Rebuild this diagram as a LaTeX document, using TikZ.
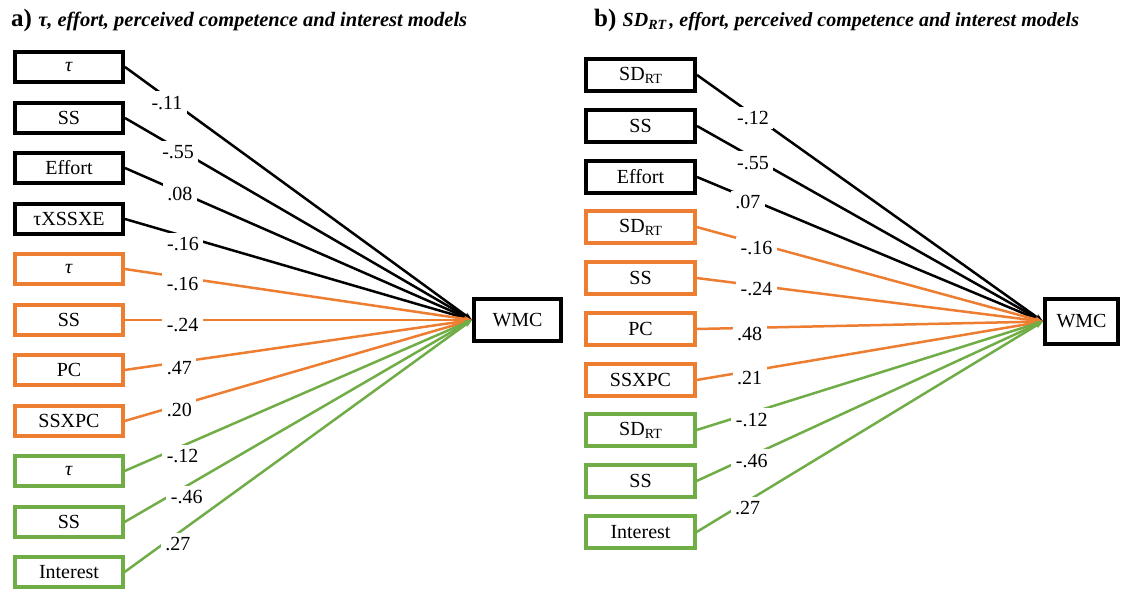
\documentclass[tikz,border=0pt]{standalone}
\usepackage{fontspec}
\setmainfont{Liberation Serif}
\usetikzlibrary{arrows.meta}
\definecolor{orng}{RGB}{237,125,49}
\definecolor{grn}{RGB}{112,173,71}
\newcommand{\sdrt}{SD\raisebox{-3pt}{\fontsize{14}{14}\selectfont RT}}
\begin{document}
\begin{tikzpicture}[x=1pt,y=-1pt,
  box/.style={draw, line width=4pt, minimum width=108pt, minimum height=30pt, inner sep=0pt, font=\fontsize{20}{22}\selectfont},
  rbox/.style={box, minimum width=109pt, minimum height=32pt},
  obox/.style={draw=orng, line width=3.2pt},
  gbox/.style={draw=grn, line width=3.2pt},
  conn/.style={line width=2.5pt, -{Stealth[length=8pt,width=6pt]}},
  lbl/.style={fill=white, inner sep=4.5pt, font=\fontsize{20}{22}\selectfont},
  ttl/.style={anchor=west, inner sep=0pt},
]
\useasboundingbox (0,0) rectangle (1126,589);

% titles
\node[ttl] (ta) at (11,20) {\fontsize{25}{28}\selectfont\bfseries a)\ \fontsize{20.5}{22}\selectfont\itshape τ, effort, perceived competence and interest models};
\node[ttl] (tb) at (594,20) {\fontsize{25}{28}\selectfont\bfseries b)\ \fontsize{20}{22}\selectfont\itshape SD\raisebox{-3pt}{\fontsize{14}{14}\selectfont RT}\,, effort, perceived competence and interest models};

% left panel
\node[box] (a1) at (69,67) {\textit{τ}};
\node[box] (a2) at (69,118) {SS};
\node[box] (a3) at (69,168) {Effort};
\node[box] (a4) at (69,219) {τXSSXE};
\node[box,obox] (a5) at (69,269) {\textit{τ}};
\node[box,obox] (a6) at (69,320) {SS};
\node[box,obox] (a7) at (69,370) {PC};
\node[box,obox] (a8) at (69,421) {SSXPC};
\node[box,gbox] (a9) at (69,471) {\textit{τ}};
\node[box,gbox] (a10) at (69,522) {SS};
\node[box,gbox] (a11) at (69,572) {Interest};
\node[box, minimum width=87pt, minimum height=42pt] (aw) at (517.5,320) {WMC};

\draw[conn] (a1.east) -- node[lbl,pos=.121,yshift=-5pt]{-.11} (aw.west);
\draw[conn] (a2.east) -- node[lbl,pos=.153,yshift=-3pt]{-.55} (aw.west);
\draw[conn] (a3.east) -- node[lbl,pos=.158,yshift=-2pt]{.08} (aw.west);
\draw[conn] (a4.east) -- node[lbl,pos=.167,yshift=-8pt]{-.16} (aw.west);
\draw[conn,orng] (a5.east) -- node[lbl,text=black,pos=.167,yshift=-6pt]{-.16} (aw.west);
\draw[conn,orng] (a6.east) -- node[lbl,text=black,pos=.167,yshift=-5pt]{-.24} (aw.west);
\draw[conn,orng] (a7.east) -- node[lbl,text=black,pos=.158,yshift=-6pt]{.47} (aw.west);
\draw[conn,orng] (a8.east) -- node[lbl,text=black,pos=.158,yshift=-5pt]{.20} (aw.west);
\draw[conn,grn] (a9.east) -- node[lbl,text=black,pos=.167,yshift=-10pt]{-.12} (aw.west);
\draw[conn,grn] (a10.east) -- node[lbl,text=black,pos=.179,yshift=-11pt]{-.46} (aw.west);
\draw[conn,grn] (a11.east) -- node[lbl,text=black,pos=.153,yshift=-11pt]{.27} (aw.west);

% right panel
\node[rbox] (b1) at (640.5,75) {\sdrt};
\node[rbox] (b2) at (640.5,126) {SS};
\node[rbox] (b3) at (640.5,177) {Effort};
\node[rbox,obox] (b4) at (640.5,227) {\sdrt};
\node[rbox,obox] (b5) at (640.5,278) {SS};
\node[rbox,obox] (b6) at (640.5,329) {PC};
\node[rbox,obox] (b7) at (640.5,380) {SSXPC};
\node[rbox,gbox] (b8) at (640.5,430) {\sdrt};
\node[rbox,gbox] (b9) at (640.5,481) {SS};
\node[rbox,gbox] (b10) at (640.5,532) {Interest};
\node[box, minimum width=73pt, minimum height=45pt] (bw) at (1081.5,321.5) {WMC};

\draw[conn] (b1.east) -- node[lbl,pos=.162,yshift=-3pt]{-.12} (bw.west);
\draw[conn] (b2.east) -- node[lbl,pos=.162,yshift=-5pt]{-.55} (bw.west);
\draw[conn] (b3.east) -- node[lbl,pos=.147,yshift=-4pt]{.07} (bw.west);
\draw[conn,orng] (b4.east) -- node[lbl,text=black,pos=.173,yshift=-5pt]{-.16} (bw.west);
\draw[conn,orng] (b5.east) -- node[lbl,text=black,pos=.173,yshift=-3pt]{-.24} (bw.west);
\draw[conn,orng] (b6.east) -- node[lbl,text=black,pos=.153,yshift=-6pt]{.48} (bw.west);
\draw[conn,orng] (b7.east) -- node[lbl,text=black,pos=.153,yshift=-7pt]{.21} (bw.west);
\draw[conn,grn] (b8.east) -- node[lbl,text=black,pos=.159,yshift=-7pt]{-.12} (bw.west);
\draw[conn,grn] (b9.east) -- node[lbl,text=black,pos=.159,yshift=-5pt]{-.46} (bw.west);
\draw[conn,grn] (b10.east) -- node[lbl,text=black,pos=.147,yshift=-7pt]{.27} (bw.west);
\end{tikzpicture}
\end{document}
